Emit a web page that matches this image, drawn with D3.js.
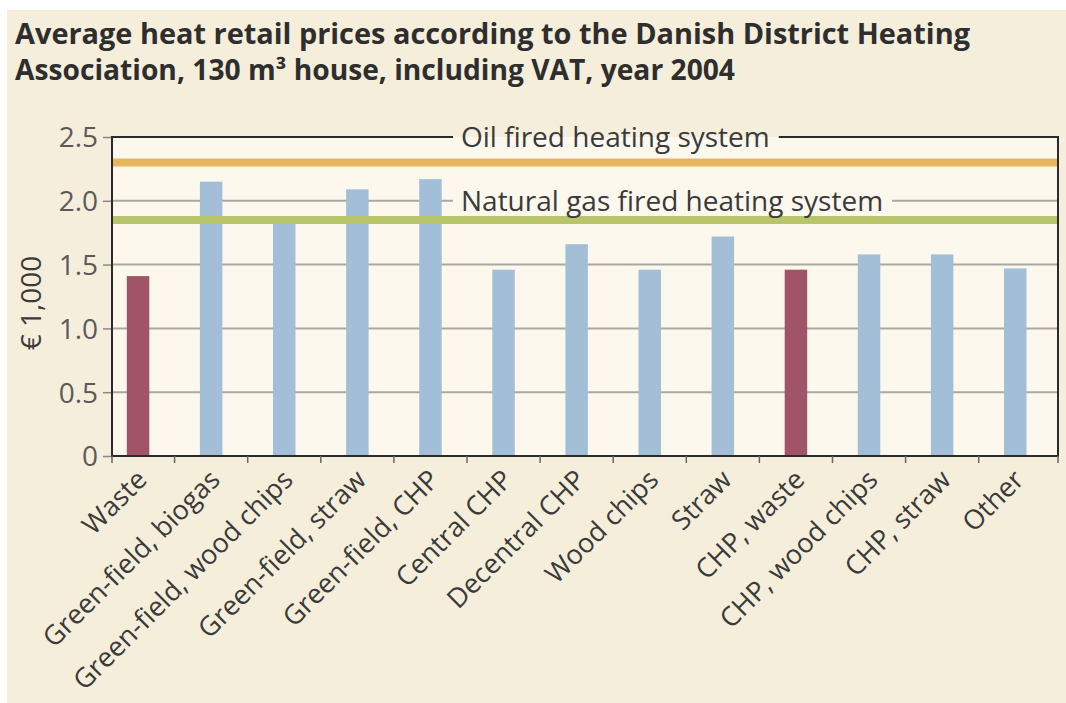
<!DOCTYPE html>
<html>
<head>
<meta charset="UTF-8">
<script src="https://d3js.org/d3.v7.min.js"></script>
<style>
  body { margin: 0; background: #fff; }
  text { font-family: "Open Sans", Lato, sans-serif; }
</style>
</head>
<body>
<svg id="chart" width="1066" height="703"></svg>
<script>
// chart data
const categories = ["Waste", "Green-field, biogas", "Green-field, wood chips", "Green-field, straw",
  "Green-field, CHP", "Central CHP", "Decentral CHP", "Wood chips", "Straw", "CHP, waste",
  "CHP, wood chips", "CHP, straw", "Other"];
const prices = [1.41, 2.15, 1.84, 2.09, 2.17, 1.46, 1.66, 1.46, 1.72, 1.46, 1.58, 1.58, 1.47];
const wasteBased = ["Waste", "CHP, waste"];
const yTicks = [0, 0.5, 1.0, 1.5, 2.0, 2.5];
const yTickLabels = ["0", "0.5", "1.0", "1.5", "2.0", "2.5"];
const refNames = ["Oil fired heating system", "Natural gas fired heating system"];
const refValues = [2.3, 1.85];
const labelValues = [2.5, 2.0];

const outerBg = "#f5eedb", plotBg = "#fcf8ee";
const svg = d3.select("#chart");

const pLeft = 112, pRight = 1058, pTop = 137, pBottom = 456;

const y = d3.scaleLinear().domain([0, 2.5]).range([pBottom, pTop]);
const x = d3.scaleBand().domain(categories).range([101.5, 1051.8]).padding(0);
const barW = 22.5;

svg.append("rect").attr("x", 7).attr("y", 10).attr("width", 1059).attr("height", 693).attr("fill", outerBg);

// title, two lines
const titleLines = ["Average heat retail prices according to the Danish District Heating",
  "Association, 130 m³ house, including VAT, year 2004"];
const titleWidths = [955, 720];
titleLines.forEach((line, i) => {
  svg.append("text").attr("x", 15).attr("y", 44 + i * 36)
    .attr("fill", "#2e2e2e").attr("font-weight", 700).attr("font-size", 28)
    .attr("textLength", titleWidths[i]).attr("lengthAdjust", "spacingAndGlyphs")
    .text(line);
});

svg.append("rect").attr("x", pLeft).attr("y", pTop).attr("width", pRight - pLeft).attr("height", pBottom - pTop).attr("fill", plotBg);

// y axis: ticks + labels
svg.append("g")
  .attr("transform", "translate(" + pLeft + ",0)")
  .call(d3.axisLeft(y).tickValues(yTicks).tickSize(9).tickPadding(5)
    .tickFormat((d, i) => yTickLabels[i]))
  .call(g => g.select(".domain").remove())
  .call(g => g.selectAll("line").attr("stroke", "#8a8a8a").attr("stroke-width", 1.5))
  .call(g => g.selectAll("text").attr("font-size", 28).attr("fill", "#5a5a5a")
    .attr("font-family", "'Open Sans'").attr("dy", "0.35em"));

// gridlines
const grid = svg.append("g");
yTicks.filter(v => v > 0 && v < 2.5).forEach(v => {
  grid.append("line").attr("data-v", v)
    .attr("x1", pLeft).attr("x2", pRight).attr("y1", y(v)).attr("y2", y(v))
    .attr("stroke", "#aaa8a2").attr("stroke-width", 2);
});

// bars
svg.append("g").selectAll("rect").data(categories).enter().append("rect")
  .attr("x", d => x(d) + x.bandwidth() / 2 - barW / 2)
  .attr("y", (d, i) => y(prices[i]))
  .attr("width", barW)
  .attr("height", (d, i) => y(0) - y(prices[i]))
  .attr("fill", d => wasteBased.includes(d) ? "#a15468" : "#a3bfd8");

// reference lines
const refColors = ["#e6b65c", "#b8c56b"];
refValues.forEach((v, i) => {
  svg.append("line").attr("x1", pLeft).attr("x2", pRight - 1).attr("y1", y(v)).attr("y2", y(v))
    .attr("stroke", refColors[i]).attr("stroke-width", 8);
});

// frame (top drawn later with gap)
const frame = svg.append("g").attr("stroke", "#2b2b2b").attr("stroke-width", 2);
frame.append("line").attr("x1", pLeft).attr("x2", pLeft).attr("y1", pTop).attr("y2", pBottom);
frame.append("line").attr("x1", pRight).attr("x2", pRight).attr("y1", pTop).attr("y2", pBottom);
frame.append("line").attr("x1", pLeft - 1).attr("x2", pRight + 1).attr("y1", pBottom).attr("y2", pBottom);

// reference labels sitting on line at 2.5 (frame) and 2.0 (grid)
refNames.forEach((name, i) => {
  const ly = y(labelValues[i]);
  const t = svg.append("text").attr("x", 461).attr("y", ly).attr("dy", "0.35em")
    .attr("font-size", 28).attr("fill", "#3a3a3a").text(name);
  const bb = t.node().getBBox();
  const gapL = bb.x - 8, gapR = bb.x + bb.width + 9;
  if (i === 0) {
    frame.append("line").attr("x1", pLeft - 1).attr("x2", gapL).attr("y1", ly).attr("y2", ly);
    frame.append("line").attr("x1", gapR).attr("x2", pRight + 1).attr("y1", ly).attr("y2", ly);
  } else {
    grid.selectAll("line").filter(function () { return +this.getAttribute("data-v") === labelValues[i]; }).remove();
    grid.append("line").attr("x1", pLeft).attr("x2", gapL).attr("y1", ly).attr("y2", ly)
      .attr("stroke", "#aaa8a2").attr("stroke-width", 2);
    grid.append("line").attr("x1", gapR).attr("x2", pRight).attr("y1", ly).attr("y2", ly)
      .attr("stroke", "#aaa8a2").attr("stroke-width", 2);
  }
});

// x ticks at band boundaries
const xTickPos = [pLeft].concat(categories.slice(1).map(c => x(c))).concat([pRight]);
svg.append("g").selectAll("line").data(xTickPos).enter().append("line")
  .attr("x1", d => d).attr("x2", d => d).attr("y1", pBottom).attr("y2", pBottom + 7)
  .attr("stroke", "#666").attr("stroke-width", 1.5);

// x labels
svg.append("g").selectAll("text").data(categories).enter().append("text")
  .attr("transform", d => "translate(" + (x(d) + x.bandwidth() / 2 - 3) + "," + (pBottom + 12) + ") rotate(-45)")
  .attr("text-anchor", "end")
  .attr("dy", "0.7em")
  .attr("font-size", 27).attr("fill", "#3a3a3a")
  .text(d => d);

// y axis title
svg.append("text").attr("transform", "translate(41,303) rotate(-90)")
  .attr("text-anchor", "middle").attr("font-size", 28).attr("fill", "#3a3a3a")
  .text("€ 1,000");
</script>
</body>
</html>
